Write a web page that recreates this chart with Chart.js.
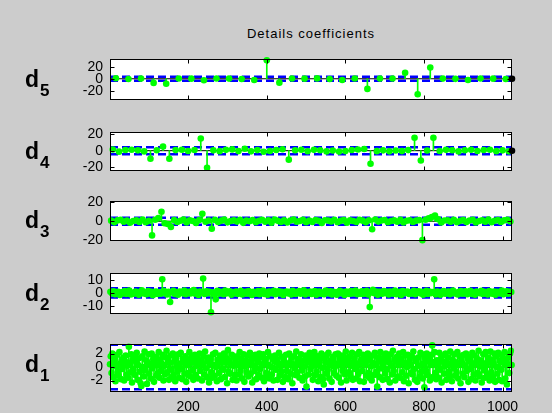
<!DOCTYPE html>
<html>
<head>
<meta charset="utf-8">
<script src="https://cdn.jsdelivr.net/npm/chart.js@4.4.1/dist/chart.umd.min.js"></script>
<style>
  body { margin: 0; width: 552px; height: 413px; overflow: hidden; position: relative; background: #cccccc; font-family: "Liberation Sans", Arial, sans-serif; }
  .panel { position: absolute; left: 0; width: 552px; }
  #title { position: absolute; left: 191px; width: 240px; top: 27px; text-align: center; font-size: 13px; line-height: 13px; letter-spacing: 1px; }
  .lab { position: absolute; left: 25px; font-weight: bold; font-size: 23px; line-height: 22px; }
  .lab span { font-size: 17px; position: relative; top: 9px; margin-left: 1px; }
</style>
</head>
<body>
<div id="title">Details coefficients</div>
<script>
// x axis ticks shared by every panel
const xTicks = [200, 400, 600, 800, 1000];

// detail coefficients (one value per stem)
const d5 = [0.8, -0.5, 0.3, -7, -8.5, 0.4, 0.2, -2.5, 0.5, 0.3, -0.4, -2, 31, -6.5, 0.5, 0.2,
  0.6, -0.3, -2, 0.4, -17, 0.3, 0.5, 10, -26, 19, 0.3, -0.2, -2, 0.4, 0.2, -0.3];

const d4 = [1.5, -1.2, 0.8, 1.1, 0.4, -0.9, -10, 0.6, 5, -10, 0.7, 1.2, -0.3, 0.9, 15, -21,
  0.4, -0.6, 1.0, 1.6, -0.5, 2.4, -0.8, 0.7, -1.3, -0.4, 0.9, 1.8, -11, 0.6, 1.1, -0.7,
  1.0, 0.5, -0.9, 0.3, -1.1, -0.5, 0.8, 1.4, 2.1, -16, -0.6, 0.4, -0.8, 0.2, -0.5, 0.7,
  16, -12, 0.3, 16, -0.4, 1.0, 0.6, -0.9, 0.5, 1.2, -0.3, 0.8, 1.1, -0.6, 0.4, -0.8];

const d3 = [0.6, -1.2, 0.9, 1.4, -0.5, 0.8, -1.6, 0.3, 1.1, -0.7, 1.9, -1.1, 0.4, -15, 1.5, 3.5,
  10, -2.1, -3, -6, 1.2, -0.8, 0.5, 1.7, -1.4, 0.9, 0.2, -1.9, 1.3, 8, -0.6, 0.7,
  -8, 1.4, -0.9, 0.6, 1.8, -1.2, 0.3, 1.0, -0.4, 1.6, -1.7, 0.8, 0.1, 1.2, -1.0, 0.5,
  1.5, -0.6, 0.9, -1.5, 1.7, 0.4, -0.8, 1.1, -1.3, 0.7, 1.9, -0.5, 0.2, 1.4, -1.1, 0.6,
  -0.7, 1.3, 0.5, -1.8, 1.0, 0.8, -0.3, 1.6, -1.0, 0.4, 1.2, -1.6, 0.9, 0.3, -0.9, 1.5,
  0.6, -1.2, 1.1, -8.5, 1.8, -0.4, 0.7, 1.3, -1.1, 0.2, 0.9, -0.6, 1.4, -1.4, 0.5, 1.0,
  -0.8, 0.6, 1.2, -20, 1.5, 3, 4.5, 6, 2, -1.3, 0.8, 1.1, -0.5, 1.6, -1.0, 0.4,
  1.2, -0.9, 0.7, 1.5, -1.4, 0.3, 1.0, -0.6, 1.8, -1.1, 0.5, 1.3, -0.7, 0.9, 1.6, -0.3];

const d2 = [0.8, -0.4, 1.2, -1.1, 0.3, 0.9, -1.6, 0.5, -0.2, 1.4, -0.8, 0.6, 1.7, -1.3, 0.1, -0.7,
  1.0, 0.4, -1.5, 0.7, 1.9, -0.5, 0.2, -1.0, 1.3, -0.3, 0.8, -1.8, 0.6, 1.1, -0.9, 0.4,
  -0.6, 10.4, 1.5, -0.2, -1.2, 0.9, -7, 0.3, 1.6, -0.8, 0.5, -1.4, 1.1, 0.7, -0.4, 1.8,
  -1.1, 0.2, 0.9, -0.5, 1.4, 2.2, -0.7, 0.6, -1.6, 1.0, 0.3, 11, -0.9, 1.2, -0.3, 0.8,
  -15, 0.5, -1.3, -5, 1.5, -0.6, 0.9, 0.2, -1.0, 1.7, -0.4, 0.7, 1.2, -1.5, 0.4, -0.2,
  1.1, -0.9, 0.6, 1.6, -1.2, 0.3, 0.8, -0.7, 1.4, -0.1, -1.7, 0.9, 0.5, -0.6, 1.3, -1.0,
  0.2, 1.8, -0.8, 0.7, -1.4, 1.0, 0.4, -0.3, 1.5, -1.1, 0.6, 1.2, -0.5, 0.9, -1.6, 0.3,
  1.1, -0.4, 0.8, -1.2, 1.6, 0.2, -0.9, 0.5, 1.3, -0.7, 0.1, 1.9, -1.3, 0.6, -0.2, 1.0,
  -0.8, 0.4, 1.4, -1.5, 0.7, 1.1, -0.6, 0.3, -1.0, 1.7, 0.5, -0.4, 1.2, -1.2, 0.8, 0.2,
  -1.4, 0.9, 1.5, -0.3, 0.6, -1.7, 1.0, 0.4, -0.9, 1.3, -0.5, 0.7, 1.8, -1.1, 0.2, -0.6,
  1.2, -0.8, 0.5, 1.6, -1.3, -11, 0.3, 2.3, -0.4, 1.0, -1.5, 0.8, 0.6, -0.7, 1.4, -0.2,
  0.9, -1.2, 1.1, 0.3, -0.6, 1.7, -1.0, 0.5, 0.8, -1.6, 1.3, -0.3, 0.7, 1.0, -0.9, 0.4,
  -0.5, 1.5, -1.1, 0.6, 1.2, -0.4, 0.9, -1.4, 0.2, 1.6, -0.8, 1.1, -0.2, 0.7, 10.4, -1.2,
  1.0, 0.5, -1.5, 0.8, 1.4, -0.7, 0.3, 1.1, -1.0, 0.6, 1.8, -0.5, 0.2, -1.3, 0.9, 1.3,
  -0.6, 0.4, 1.2, -1.1, 0.7, 1.6, -0.9, 0.3, -1.4, 1.0, 0.5, -0.3, 1.5, -0.8, 0.9, 0.1,
  -1.2, 1.3, 0.6, -0.7, 1.1, -1.5, 0.8, 0.4, -0.4, 1.7, -1.0, 0.5, 1.2, -0.6, 0.9, 0.7];

const d1 = [0.4, 1.6, -0.9, 2.0, -1.5, 0.7, 1.2, -2.1, 0.1, 1.8, -0.6, -1.3, 2.2, 0.5, -1.8, 1.0,
  -0.3, 1.4, -2.0, 0.9, 1.7, -1.1, 0.2, -1.6, 3.0, 0.6, -0.8, 1.9, -2.3, 1.1, -0.4, 1.5,
  -1.2, 0.8, 2.1, -1.9, 0.3, 1.3, -0.7, -2.4, -2.8, 1.6, 0.0, -1.4, 2.3, -0.5, 1.0, -2.5,
  0.7, 1.9, -1.0, 0.4, -1.7, 2.0, -0.2, 1.2, -2.2, 0.9, 1.5, -1.3, 0.3, -0.9, 2.2, -1.6,
  1.1, -0.6, 0.5, 1.8, -2.0, 0.2, -1.1, 1.4, 2.4, -0.8, 1.0, -1.9, 0.6, 1.7, -0.4, -1.5,
  2.0, -1.2, 0.8, -2.1, 1.3, 0.1, -0.7, 1.9, -1.6, 0.5, 2.1, -0.3, -1.8, 1.2, 0.7, -1.0,
  1.6, -2.2, 0.3, 1.1, -0.9, 2.2, -1.4, 0.6, 1.5, -0.5, -1.9, 0.9, 1.8, -1.2, 0.2, 1.3,
  -1.7, 0.7, 2.0, -0.6, 1.0, -2.0, 0.4, 1.6, -1.1, 2.3, -0.2, -1.5, 0.8, 1.4, -2.3, 0.5,
  1.2, -0.8, -1.6, 1.9, 0.3, -1.3, 2.1, 0.0, -2.1, 1.1, 0.6, -0.9, 1.7, -1.8, 0.9, 1.4,
  -0.4, 2.0, -1.5, 0.7, 1.3, -2.4, 2.5, -0.7, 1.0, -1.0, 0.4, 1.8, -1.9, 0.2, 1.5, -1.2,
  0.8, -2.0, 1.6, 0.3, -1.1, 2.2, -0.5, 1.2, -1.7, 0.6, 1.9, -2.2, 0.1, 1.0, -0.8, 1.7,
  -1.4, 0.5, 2.1, -1.0, 0.9, -2.3, 1.4, 0.2, -0.6, 1.8, -1.8, 1.1, 0.7, -1.2, 2.0, -0.3,
  1.5, -1.6, 0.4, 1.9, -2.1, 0.8, 1.2, -0.9, -1.4, 2.2, 0.3, -1.7, 1.6, 0.0, -1.1, 1.3,
  -2.0, 0.9, 1.7, -0.4, 1.1, -1.9, 0.6, 2.1, -1.3, 0.2, -0.7, 1.5, -2.2, 1.0, 0.5, -1.5,
  1.8, -0.6, 0.3, -1.8, 2.0, 0.7, -1.0, 1.4, -2.4, 0.4, 1.6, -0.2, -1.2, 2.3, -0.8, 0.9,
  1.2, -1.6, 0.5, 1.9, -0.5, -2.0, 1.0, 0.1, -1.4, 1.7, -2.9, 0.8, 1.3, -1.1, 2.1, -0.3,
  0.6, 1.5, -1.9, 0.2, 2.2, -1.2, 0.9, -0.7, 1.6, -2.1, 0.4, 1.1, -1.5, 2.0, -0.1, -1.8,
  -2.6, 1.3, 0.7, -1.0, 1.8, -0.4, 2.1, -1.7, 0.3, 1.0, -2.2, 0.8, 1.5, -0.9, 0.0, 1.9,
  -1.3, 0.5, 2.0, -1.6, 1.2, 0.4, -2.3, 1.7, -0.5, 0.9, 1.4, -1.1, 2.3, -2.0, 0.6, 1.0,
  -0.8, 1.6, -1.4, 0.2, 2.1, -1.9, 0.7, 1.3, -0.3, -1.7, 1.9, 0.5, -1.0, 2.2, -2.1, 0.8,
  1.1, -0.6, 1.8, -2.2, 0.4, 1.5, -1.3, 0.9, 2.0, -0.9, -1.6, 1.2, 0.1, -2.0, 1.7, 0.6,
  -1.2, 2.1, 0.3, -0.7, -2.9, 1.4, 0.8, -1.5, 2.2, -0.2, 1.0, -1.9, 0.6, 1.6, -1.0, 2.0,
  -0.4, -1.8, 1.3, 0.7, -2.3, 1.9, 0.2, -1.1, 2.4, -0.6, 1.1, -2.0, 0.9, 1.5, -1.4, 0.3,
  2.0, -1.6, 0.5, 1.2, -0.8, 2.2, -2.1, 0.6, 1.7, -1.3, 0.0, 1.8, -2.4, 1.0, 0.4, -0.9,
  1.6, -1.1, 2.3, -0.3, -1.9, 1.1, 0.8, -2.2, 1.4, 0.2, -1.4, 2.1, -0.7, 1.9, -1.7, 0.5,
  -3.0, 1.3, -0.5, 2.0, -1.2, 0.9, 1.5, -2.0, 0.3, 1.8, 3.2, -1.5, 0.7, 2.2, -0.9, -1.8,
  1.0, 0.4, -1.6, 2.1, -0.4, 1.2, -2.3, 0.8, 1.7, -1.0, 0.1, 2.0, -1.9, 0.6, 1.4, -0.7,
  -1.4, 2.3, 0.5, -2.1, 1.1, -0.2, 1.9, -1.3, 0.7, -0.8, 2.2, -1.7, 0.3, 1.6, -2.4, 1.0,
  0.6, -1.0, 1.8, -1.5, 0.2, 2.0, -0.6, 1.3, -2.2, 0.9, 1.5, -0.3, -1.8, 2.1, 0.4, -1.1,
  1.7, -2.0, 0.8, 1.2, -0.9, 2.4, -1.4, 0.1, 1.0, -2.3, 0.6, 1.9, -0.5, -1.6, 2.2, 0.3,
  -1.2, 1.4, 0.7, -2.0, 2.3, -0.8, 1.1, -1.5, 0.5, 2.0, -2.2, 1.6, 0.0, -1.0, 2.1, -1.9,
  0.9, 1.8, -0.4, -2.1, 1.3, 0.6, 2.2, -1.7, 1.0, -2.6, 0.4, 1.5, -0.9, 2.0, 2.4, 0.3];

// threshold (blue dashed) per level and y tick labels
const thresholds = { d5: 3.3, d4: 4.3, d3: 3.8, d2: 3.6, d1: 3.3 };
const yTicks = { d5: [-20, 0, 20], d4: [-20, 0, 20], d3: [-20, 0, 20], d2: [-10, 0, 10], d1: [-2, 0, 2] };

// panel layout
const panels = [
  { key: 'd5', n: '5', values: d5, step: 32, yMin: -35, yMax: 32.5, top: 52, bottom: 107, endDot: true },
  { key: 'd4', n: '4', values: d4, step: 16, yMin: -24.5, yMax: 22.5, top: 125, bottom: 178, endDot: true },
  { key: 'd3', n: '3', values: d3, step: 8, yMin: -20.5, yMax: 21, top: 194, bottom: 248 },
  { key: 'd2', n: '2', values: d2, step: 4, yMin: -16, yMax: 15, top: 266, bottom: 321 },
  { key: 'd1', n: '1', values: d1, step: 2, yMin: -3.7, yMax: 3.35, top: 337, bottom: 392, xLabels: true }
];

const GREEN = '#00ff00';
const BLUE = '#0000ff';
const FONT = { family: '"Liberation Sans", Arial, sans-serif', size: 14 };

// white axes background, black box and inward ticks like matlab
const boxPlugin = {
  id: 'box',
  beforeDraw(chart) {
    const { ctx, chartArea: a } = chart;
    ctx.save();
    ctx.fillStyle = '#fff';
    ctx.fillRect(a.left, a.top, a.right - a.left, a.bottom - a.top);
    ctx.restore();
  },
  afterDraw(chart) {
    const { ctx, chartArea: a, scales } = chart;
    const l = Math.round(a.left) + 0.5, r = Math.round(a.right) - 0.5;
    const t = Math.round(a.top) + 0.5, b = Math.round(a.bottom) - 0.5;
    ctx.save();
    ctx.strokeStyle = '#000';
    ctx.lineWidth = 1;
    ctx.strokeRect(l, t, r - l, b - t);
    ctx.beginPath();
    scales.y.ticks.forEach(tk => {
      const y = Math.round(scales.y.getPixelForValue(tk.value)) + 0.5;
      ctx.moveTo(l, y); ctx.lineTo(l + 4, y);
      ctx.moveTo(r, y); ctx.lineTo(r - 4, y);
    });
    xTicks.forEach(v => {
      const x = Math.round(scales.x.getPixelForValue(v)) + 0.5;
      ctx.moveTo(x, b); ctx.lineTo(x, b - 4);
      ctx.moveTo(x, t); ctx.lineTo(x, t + 4);
    });
    ctx.stroke();
    ctx.restore();
  }
};

function makePanel(p) {
  const padTop = 8;
  const axisH = p.xLabels ? 21 : 0;
  const padBottom = p.xLabels ? 0 : 8;

  const div = document.createElement('div');
  div.className = 'panel';
  div.style.top = (p.top - padTop) + 'px';
  div.style.height = (p.bottom - p.top + padTop + padBottom + axisH) + 'px';
  const canvas = document.createElement('canvas');
  div.appendChild(canvas);
  document.body.appendChild(div);

  // label d + subscript
  const lab = document.createElement('div');
  lab.className = 'lab';
  lab.innerHTML = 'd<span>' + p.n + '</span>';
  lab.style.top = ((p.top + p.bottom) / 2 - 12) + 'px';
  document.body.appendChild(lab);

  const pts = p.values.map((v, i) => ({ x: (i + 0.5) * p.step, y: v }));
  const thr = thresholds[p.key];

  const datasets = [
    { type: 'line', data: pts, showLine: false, pointRadius: 3.3, pointBackgroundColor: GREEN,
      pointBorderWidth: 0, clip: false, order: 0 },
    { type: 'bar', data: pts, backgroundColor: GREEN, barThickness: 1, borderWidth: 0, grouped: false, order: 1 },
    { type: 'line', data: [{ x: 1, y: 0 }, { x: 1024, y: 0 }], borderColor: '#000', borderWidth: 1,
      pointRadius: 0, order: 2 },
    { type: 'line', data: [{ x: 1, y: thr }, { x: 1024, y: thr }], borderColor: BLUE, borderWidth: 2.5,
      borderDash: [8, 4], pointRadius: 0, order: 3 },
    { type: 'line', data: [{ x: 1, y: -thr }, { x: 1024, y: -thr }], borderColor: BLUE, borderWidth: 2.5,
      borderDash: [8, 4], pointRadius: 0, order: 3 }
  ];
  if (p.endDot) {
    datasets.push({ type: 'line', data: [{ x: 1024, y: 0 }], showLine: false, pointRadius: 3.3,
      pointBackgroundColor: '#000', pointBorderWidth: 0, clip: false, order: -1 });
  }

  new Chart(canvas, {
    type: 'bar',
    data: { datasets },
    options: {
      responsive: true,
      maintainAspectRatio: false,
      animation: false,
      events: [],
      layout: { padding: { left: 0, right: 40, top: padTop, bottom: padBottom } },
      plugins: { legend: { display: false }, tooltip: { enabled: false } },
      scales: {
        x: {
          type: 'linear', min: 1, max: 1024, offset: false,
          display: !!p.xLabels,
          grid: { display: false, drawTicks: false },
          border: { display: false },
          ticks: { color: '#000', font: FONT, padding: 7, maxRotation: 0, autoSkip: false,
            callback: v => String(v) },
          afterBuildTicks: s => { s.ticks = xTicks.map(v => ({ value: v })); },
          afterFit: s => { s.height = axisH; }
        },
        y: {
          min: p.yMin, max: p.yMax,
          grid: { display: false, drawTicks: false },
          border: { display: false },
          ticks: { color: '#000', font: FONT, padding: 7, callback: v => String(v) },
          afterBuildTicks: s => { s.ticks = yTicks[p.key].map(v => ({ value: v })); },
          afterFit: s => { s.width = 110; }
        }
      }
    },
    plugins: [boxPlugin]
  });
}

panels.forEach(makePanel);
</script>
</body>
</html>
